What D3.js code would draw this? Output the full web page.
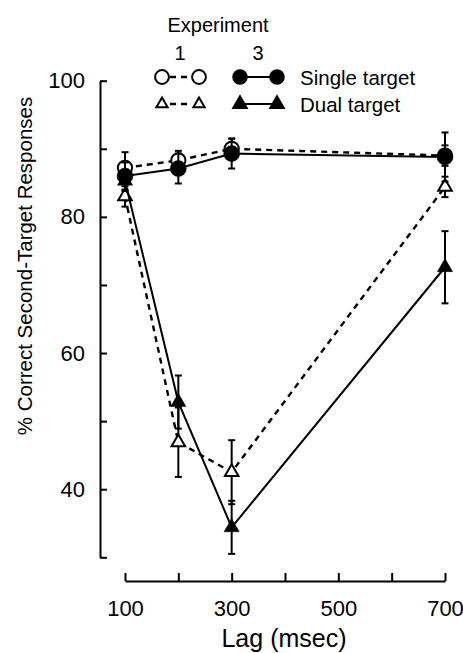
<!DOCTYPE html>
<html>
<head>
<meta charset="utf-8">
<script src="https://cdn.jsdelivr.net/npm/d3@7"></script>
<style>
body { margin: 0; background: #fff; }
text { font-family: "Liberation Sans", Arial, Helvetica, sans-serif; fill: #000; }
</style>
</head>
<body>
<svg id="chart" width="463" height="653"></svg>
<script>
// lag values (msec)
const lags = [100, 200, 300, 700];

// % correct
const exp1Single = [87.2, 88.3, 90.0, 89.0];
const exp1SingleErr = [2.3, 1.4, 1.5, 1.5];
const exp3Single = [86.0, 87.1, 89.3, 88.8];
const exp3SingleErr = [2.0, 2.2, 2.2, 3.6];

const exp1Dual = [83.0, 46.9, 42.5, 84.4];
const exp1DualErr = [1.5, 5.1, 4.7, 1.5];
const exp3Dual = [85.3, 52.8, 34.4, 72.6];
const exp3DualErr = [1.5, 3.9, 3.9, 5.3];

const xTicks = [100, 200, 300, 400, 500, 600, 700];
const xLabels = [100, 300, 500, 700];
const yTicks = [30, 40, 50, 60, 70, 80, 90, 100];
const yLabels = [40, 60, 80, 100];

const svg = d3.select('#chart');

const x = d3.scaleLinear().domain([100, 700]).range([125, 445]);
const y = d3.scaleLinear().domain([30, 100]).range([557.3, 80.7]);

// axes
const xAxis = svg.append('g')
  .attr('transform', 'translate(0,581)')
  .call(d3.axisBottom(x)
    .tickValues(xTicks)
    .tickSize(-8)
    .tickSizeOuter(0)
    .tickPadding(19)
    .tickFormat(d => xLabels.includes(d) ? d : ''));

const yAxis = svg.append('g')
  .attr('transform', 'translate(100,0)')
  .call(d3.axisLeft(y)
    .tickValues(yTicks)
    .tickSize(-7)
    .tickSizeOuter(0)
    .tickPadding(15)
    .tickFormat(d => yLabels.includes(d) ? d : ''));

[xAxis, yAxis].forEach(a => {
  a.select('.domain').attr('stroke', '#000').attr('stroke-width', 2);
  a.selectAll('.tick line').attr('stroke', '#000').attr('stroke-width', 2);
  a.selectAll('.tick text').attr('font-size', 22).attr('font-family', null);
});

svg.append('text')
  .attr('x', 284).attr('y', 647)
  .attr('text-anchor', 'middle')
  .attr('font-size', 25)
  .text('Lag (msec)');

svg.append('text')
  .attr('transform', 'translate(32,266) rotate(-90)')
  .attr('text-anchor', 'middle')
  .attr('font-size', 20.5)
  .text('% Correct Second-Target Responses');

// series drawing
const line = d3.line().x((d, i) => x(lags[i])).y(d => y(d));

const circle = d3.symbol().type(d3.symbolCircle);
const tri = d3.symbol().type(d3.symbolTriangle);

function drawSeries(vals, errs, opts) {
  const g = svg.append('g');
  g.append('path')
    .datum(vals)
    .attr('fill', 'none')
    .attr('stroke', '#000')
    .attr('stroke-width', opts.dashed ? 2.4 : 2)
    .attr('stroke-dasharray', opts.dashed ? '6,5' : null)
    .attr('d', line);

  const eb = g.selectAll('.eb').data(vals).enter().append('g');
  eb.append('line')
    .attr('x1', (d, i) => x(lags[i])).attr('x2', (d, i) => x(lags[i]))
    .attr('y1', (d, i) => y(d - errs[i])).attr('y2', (d, i) => y(d + errs[i]))
    .attr('stroke', '#000').attr('stroke-width', 2);
  [-1, 1].forEach(s => {
    eb.append('line')
      .attr('x1', (d, i) => x(lags[i]) - 3.5).attr('x2', (d, i) => x(lags[i]) + 3.5)
      .attr('y1', (d, i) => y(d + s * errs[i])).attr('y2', (d, i) => y(d + s * errs[i]))
      .attr('stroke', '#000').attr('stroke-width', 2);
  });

  g.selectAll('.m').data(vals).enter().append('path')
    .attr('transform', (d, i) => `translate(${x(lags[i])},${y(d)})`)
    .attr('d', opts.shape.size(opts.size)())
    .attr('fill', opts.open ? '#fff' : '#000')
    .attr('stroke', '#000')
    .attr('stroke-width', opts.open ? 2 : 0.5);
}

drawSeries(exp1Dual, exp1DualErr, { dashed: true, open: true, shape: tri, size: 80 });
drawSeries(exp3Dual, exp3DualErr, { dashed: false, open: false, shape: tri, size: 100 });
drawSeries(exp1Single, exp1SingleErr, { dashed: true, open: true, shape: circle, size: 160 });
drawSeries(exp3Single, exp3SingleErr, { dashed: false, open: false, shape: circle, size: 200 });

// legend
const leg = svg.append('g');
leg.append('text').attr('x', 218).attr('y', 32).attr('text-anchor', 'middle')
  .attr('font-size', 20).text('Experiment');
leg.append('text').attr('x', 180).attr('y', 60).attr('text-anchor', 'middle')
  .attr('font-size', 20).text('1');
leg.append('text').attr('x', 258).attr('y', 60).attr('text-anchor', 'middle')
  .attr('font-size', 20).text('3');

const legRows = [
  { label: 'Single target', y: 77, shape: circle, openSize: 150, fillSize: 190 },
  { label: 'Dual target', y: 104, shape: tri, openSize: 55, fillSize: 125 }
];

legRows.forEach(r => {
  leg.append('line').attr('x1', 162).attr('x2', 199).attr('y1', r.y).attr('y2', r.y)
    .attr('stroke', '#000').attr('stroke-width', 2.4).attr('stroke-dasharray', '0,8,6,5,6,20');
  leg.append('line').attr('x1', 240).attr('x2', 277).attr('y1', r.y).attr('y2', r.y)
    .attr('stroke', '#000').attr('stroke-width', 2);
  [162, 199].forEach(px => {
    leg.append('path').attr('transform', `translate(${px},${r.y})`)
      .attr('d', r.shape.size(r.openSize)())
      .attr('fill', '#fff').attr('stroke', '#000').attr('stroke-width', 2);
  });
  [240, 277].forEach(px => {
    leg.append('path').attr('transform', `translate(${px},${r.y})`)
      .attr('d', r.shape.size(r.fillSize)())
      .attr('fill', '#000');
  });
  leg.append('text').attr('x', 300).attr('y', r.y + 7.5)
    .attr('font-size', 20.5).text(r.label);
});
</script>
</body>
</html>
